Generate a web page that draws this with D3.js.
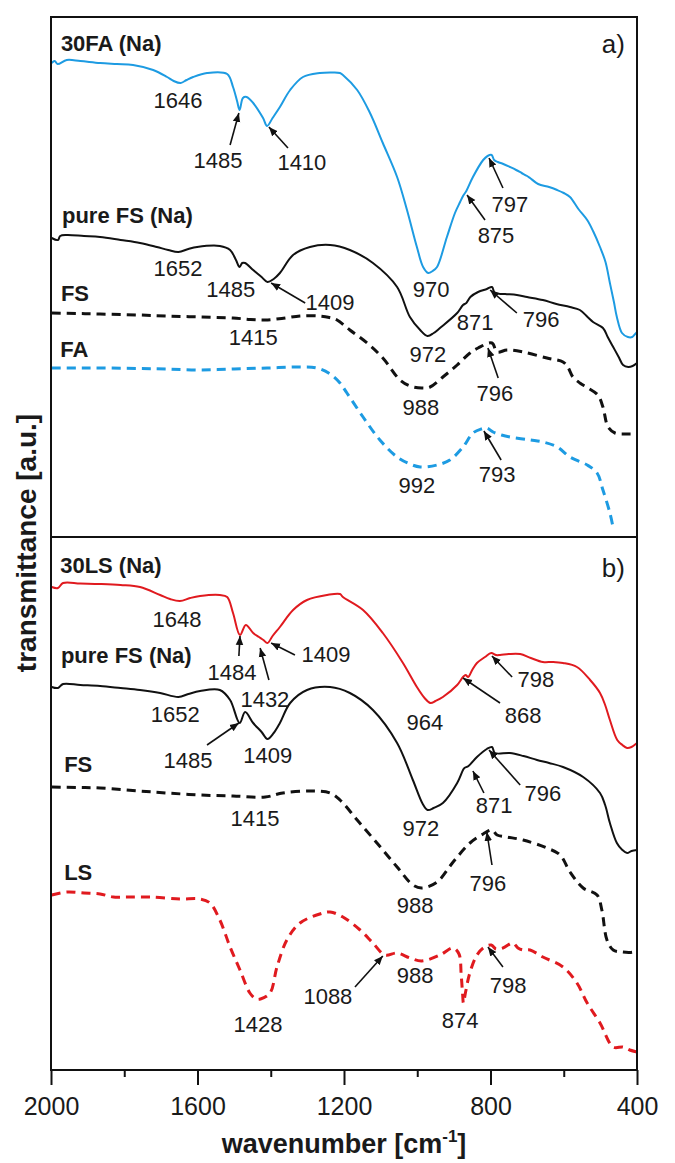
<!DOCTYPE html>
<html><head><meta charset="utf-8">
<script src="https://cdn.jsdelivr.net/npm/d3@7"></script>
<style>
body{margin:0;background:#fff}
svg{display:block}
text{font-family:"Liberation Sans",Arial,sans-serif;fill:#1a1a1a}
</style>
</head><body>
<svg id="c" width="675" height="1163"></svg>
<script>
// ---------- data ----------
const xTicksMajor=[2000,1600,1200,800,400];
const xTicksMinor=[1800,1400,1000,600];

// panel a  [wavenumber, transmittance a.u.]
const fa30Na=[[1998,47.4],[1990,47.6],[1982,47.3],[1957,47.7],[1920,47.6],[1866,47.4],[1820,47.3],[1776,47.2],[1721,46.7],[1683,46.0],[1665,45.6],[1646,45.4],[1630,45.7],[1612,46.0],[1574,46.4],[1519,46.3],[1503,45.0],[1492,43.6],[1485,42.7],[1476,43.9],[1466,44.0],[1448,43.4],[1421,41.9],[1410,41.1],[1395,41.9],[1375,43.0],[1347,44.7],[1312,46.0],[1266,46.4],[1230,46.45],[1211,46.4],[1203,46.2],[1164,44.7],[1129,42.4],[1094,39.4],[1055,36.0],[1028,32.7],[1001,29.0],[984,27.0],[970,26.4],[958,26.6],[946,27.0],[919,30.0],[897,32.4],[883,33.5],[875,34.1],[866,34.6],[848,36.0],[820,37.7],[808,38.1],[797,38.2],[790,37.7],[780,37.5],[765,37.3],[747,37.0],[730,36.7],[715,36.4],[700,36.1],[692,35.9],[670,35.3],[640,35.0],[618,34.7],[600,34.4],[583,34.0],[560,32.8],[536,31.7],[520,30.6],[501,29.0],[486,27.5],[474,25.4],[463,23.5],[455,22.0],[441,20.4],[425,20.0],[413,20.0],[405,20.3],[400,20.5]];
const pureFSa=[[1998,29.9],[1981,29.7],[1975,30.1],[1957,30.2],[1910,30.1],[1866,30.0],[1810,29.7],[1757,29.4],[1711,29.0],[1680,28.7],[1652,28.5],[1625,28.8],[1601,29.0],[1539,29.1],[1511,28.7],[1495,27.7],[1485,27.0],[1478,27.4],[1470,27.4],[1448,26.7],[1425,26.0],[1409,25.5],[1392,25.8],[1375,26.4],[1339,28.2],[1293,29.0],[1238,29.2],[1184,28.7],[1121,27.4],[1055,25.0],[1020,22.0],[992,20.7],[972,20.1],[955,20.4],[938,20.9],[891,22.4],[875,23.2],[866,23.4],[855,24.0],[834,24.5],[810,24.8],[796,25.0],[788,24.4],[760,24.3],[728,24.2],[700,24.0],[657,23.7],[620,23.3],[583,23.0],[556,22.7],[535,22.0],[520,21.5],[493,20.9],[480,20.0],[465,19.0],[450,18.0],[438,17.2],[424,17.0],[412,17.1],[400,17.4]];
const FSa=[[1998,22.4],[1930,22.35],[1866,22.3],[1760,22.2],[1683,22.1],[1593,22.0],[1503,21.9],[1455,21.75],[1415,21.7],[1370,21.85],[1320,22.1],[1266,22.1],[1240,21.95],[1219,21.7],[1184,20.7],[1137,19.4],[1094,17.9],[1047,15.7],[1020,15.1],[988,14.9],[965,15.0],[930,16.0],[891,17.2],[856,18.4],[834,18.9],[796,19.4],[782,18.5],[755,18.7],[711,18.5],[646,17.9],[602,17.5],[589,17.0],[575,16.0],[556,15.4],[534,14.9],[507,14.2],[493,13.0],[479,11.0],[460,10.4],[430,10.3],[400,10.3]];
const FAa=[[1998,16.9],[1930,16.9],[1866,16.9],[1760,16.85],[1683,16.8],[1593,16.7],[1500,16.8],[1410,16.9],[1320,17.0],[1274,16.9],[1238,16.3],[1211,15.4],[1192,14.4],[1148,12.0],[1102,9.7],[1055,8.0],[1020,7.3],[992,7.0],[946,7.2],[911,7.7],[875,9.0],[848,10.4],[825,10.8],[810,10.9],[793,10.5],[770,10.2],[747,10.0],[692,9.7],[657,9.5],[618,9.0],[583,8.0],[536,7.2],[509,6.4],[493,4.7],[474,2.4],[465,0.9]];

// panel b
const ls30Na=[[1998,48.3],[1981,48.2],[1967,48.7],[1920,48.65],[1866,48.6],[1810,48.5],[1757,48.3],[1702,47.5],[1675,47.1],[1648,46.9],[1620,47.2],[1593,47.4],[1539,47.5],[1519,47.3],[1503,45.7],[1484,43.5],[1468,44.5],[1448,43.7],[1432,43.3],[1420,43.0],[1409,42.7],[1395,43.4],[1375,44.3],[1339,46.0],[1301,47.0],[1246,47.5],[1211,47.6],[1203,47.3],[1148,46.0],[1094,43.7],[1039,40.7],[1001,38.3],[980,37.2],[964,36.7],[950,36.9],[930,37.3],[891,38.5],[875,39.3],[868,39.5],[861,39.3],[850,40.0],[837,40.7],[815,41.3],[798,41.7],[785,41.5],[774,41.5],[750,41.6],[719,41.6],[690,41.2],[657,40.8],[630,40.8],[602,40.7],[564,40.3],[528,39.0],[501,37.7],[487,36.5],[474,35.0],[454,33.0],[440,32.5],[427,32.2],[415,32.3],[400,32.7]];
const pureFSb=[[1998,38.3],[1981,38.2],[1967,38.6],[1920,38.5],[1866,38.4],[1810,38.2],[1757,38.0],[1702,37.7],[1652,37.3],[1625,37.6],[1593,37.9],[1539,38.0],[1511,37.0],[1485,34.7],[1470,35.8],[1448,34.7],[1425,33.8],[1409,33.1],[1392,33.7],[1375,34.7],[1347,36.7],[1301,38.0],[1238,38.3],[1184,37.7],[1121,36.0],[1055,32.7],[1012,29.0],[985,26.6],[972,26.0],[955,26.2],[930,26.7],[891,28.7],[875,30.0],[871,30.2],[860,30.4],[837,31.3],[810,32.1],[796,32.3],[788,31.7],[747,31.7],[710,31.4],[673,31.0],[640,30.7],[602,30.3],[547,29.3],[501,27.7],[487,26.5],[474,24.7],[455,22.7],[440,22.0],[427,21.7],[415,21.9],[400,22.0]];
const FSb=[[1998,28.3],[1930,28.25],[1866,28.2],[1760,27.9],[1683,27.7],[1593,27.5],[1503,27.4],[1415,27.3],[1367,27.7],[1293,27.9],[1238,27.7],[1211,27.0],[1164,25.0],[1110,22.7],[1055,20.3],[1012,18.5],[988,18.2],[946,18.8],[902,20.8],[856,22.7],[820,23.6],[796,24.0],[782,23.5],[755,23.3],[711,23.0],[646,22.2],[610,21.5],[583,19.8],[547,18.2],[509,17.5],[496,16.0],[482,13.0],[465,12.0],[440,11.8],[411,11.8],[400,12.0]];
const LSb=[[1998,17.5],[1957,17.8],[1910,17.7],[1866,17.6],[1830,17.3],[1792,17.3],[1730,17.3],[1648,17.1],[1593,17.1],[1566,16.7],[1539,15.0],[1511,12.3],[1484,10.0],[1457,7.7],[1440,7.1],[1428,7.1],[1402,7.7],[1383,10.3],[1356,13.0],[1320,14.7],[1266,15.6],[1238,15.8],[1203,15.3],[1156,14.0],[1121,12.7],[1088,11.5],[1055,11.7],[1020,11.2],[988,10.9],[938,11.5],[902,12.2],[886,11.6],[880,9.5],[876,7.5],[874,6.7],[868,7.8],[858,9.5],[840,11.3],[820,12.2],[798,12.5],[785,12.1],[766,12.2],[739,12.7],[725,12.2],[711,12.0],[692,12.0],[657,11.3],[602,10.3],[564,8.7],[536,6.7],[501,4.7],[465,2.3],[438,2.3],[420,2.0],[400,1.8]];

// series names [text, wavenumber, value]
const namesA=[["30FA (Na)",1973,48.6],["pure FS (Na)",1970,31.4],["FS",1973,23.6],["FA",1975,18.0]];
const namesB=[["30LS (Na)",1975,49.7],["pure FS (Na)",1973,40.7],["FS",1964,29.8],["LS",1964,19.0]];

// peak labels [text, w, v, (arrow tail w, v, head w, v)]
const peaksA=[
 ["1646",1653,42.9],
 ["1485",1544,36.9,1511,39.2,1487,42.4],
 ["1410",1315,36.7,1353,38.9,1405,41.0],
 ["970",962,24.0],
 ["875",785,29.4,815,31.7,864,34.2],
 ["797",747,32.5,766,34.9,804,37.9],
 ["1652",1653,26.1],
 ["1485",1509,24.0],
 ["1409",1238,22.7,1306,23.4,1399,25.4],
 ["972",971,17.5],
 ["871",842,20.7],
 ["796",662,21.0,728,22.4,801,24.7],
 ["1415",1448,19.2],
 ["988",990,12.2],
 ["796",788,13.6,779,15.9,807,18.9],
 ["992",1001,4.4],
 ["793",782,5.5,771,7.7,818,10.6]
];
const peaksB=[
 ["1648",1656,44.3],
 ["1484",1506,39.0,1487,41.4,1484,43.4],
 ["1432",1416,36.3,1405,39.0,1429,42.2],
 ["1409",1249,40.8,1334,41.5,1399,42.7],
 ["964",979,34.0],
 ["868",711,34.7,774,36.7,875,39.2],
 ["798",676,38.3,741,39.3,796,41.4],
 ["1652",1661,34.8],
 ["1485",1626,30.2,1574,32.5,1487,34.7],
 ["1409",1408,30.7],
 ["972",990,23.4],
 ["871",790,25.7,818,27.7,848,29.9],
 ["796",657,26.9,719,28.5,804,32.0],
 ["1415",1443,24.4],
 ["988",1006,15.7],
 ["796",807,17.9,796,20.5,810,23.8],
 ["1428",1435,3.8],
 ["1088",1244,6.6,1170,8.3,1094,11.4],
 ["988",1006,8.7],
 ["874",883,4.2],
 ["798",752,7.7,766,10.3,807,12.3]
];

// ---------- drawing ----------
const L=51,R=637,TA=17,SEP=537,B=1070;
const BLUE="#1d9be2",RED="#e01a1f",BLK="#111";
const svg=d3.select("#c");
const x=d3.scaleLinear().domain([2000,400]).range([L,R]);
const yA=d3.scaleLinear().domain([0,52]).range([SEP,TA]);
const yB=d3.scaleLinear().domain([0,53.3]).range([B,SEP]);

svg.append("defs").append("marker").attr("id","ah")
 .attr("viewBox","0 0 10 10").attr("refX",10).attr("refY",5)
 .attr("markerUnits","userSpaceOnUse").attr("markerWidth",9).attr("markerHeight",9)
 .attr("orient","auto")
 .append("path").attr("d","M0,0.8L10,5L0,9.2Z").attr("fill","#111");

const clip=svg.select("defs").append("clipPath").attr("id","cp");
clip.append("rect").attr("x",L).attr("y",TA).attr("width",R-L).attr("height",B-TA);

function drawSeries(data,y,color,dashed){
  const line=d3.line().x(d=>x(d[0])).y(d=>y(d[1])).curve(d3.curveCatmullRom.alpha(0.5));
  svg.append("path").attr("d",line(data)).attr("fill","none")
    .attr("stroke",color).attr("stroke-width",dashed?3:2)
    .attr("stroke-dasharray",dashed?"9,6":null)
    .attr("stroke-linejoin","round")
    .attr("clip-path","url(#cp)");
}
drawSeries(fa30Na,yA,BLUE,false);
drawSeries(pureFSa,yA,BLK,false);
drawSeries(FSa,yA,BLK,true);
drawSeries(FAa,yA,BLUE,true);
drawSeries(ls30Na,yB,RED,false);
drawSeries(pureFSb,yB,BLK,false);
drawSeries(FSb,yB,BLK,true);
drawSeries(LSb,yB,RED,true);

// frames
svg.append("rect").attr("x",L).attr("y",TA).attr("width",R-L).attr("height",B-TA)
  .attr("fill","none").attr("stroke","#111").attr("stroke-width",2);
svg.append("line").attr("x1",L).attr("x2",R).attr("y1",SEP).attr("y2",SEP)
  .attr("stroke","#111").attr("stroke-width",2);

// bottom axis
const ax=svg.append("g").attr("transform",`translate(0,${B})`)
  .call(d3.axisBottom(x).tickValues(xTicksMajor).tickSize(15).tickPadding(12).tickFormat(d3.format("d")));
ax.select(".domain").remove();
ax.selectAll("line").attr("stroke","#111").attr("stroke-width",2);
ax.selectAll("text").attr("font-size",25).attr("fill","#1a1a1a").style("font-family","'Liberation Sans',Arial,sans-serif");
const axm=svg.append("g").attr("transform",`translate(0,${B})`)
  .call(d3.axisBottom(x).tickValues(xTicksMinor).tickSize(7).tickFormat(""));
axm.select(".domain").remove();
axm.selectAll("line").attr("stroke","#111").attr("stroke-width",2);

// axis titles
const xt=svg.append("text").attr("x",(L+R)/2).attr("y",1153).attr("text-anchor","middle")
  .attr("font-size",27).attr("font-weight","bold");
xt.append("tspan").text("wavenumber [cm");
xt.append("tspan").text("-1").attr("font-size",17).attr("dy",-11);
xt.append("tspan").text("]").attr("dy",11);
svg.append("text").attr("transform","translate(26,543) rotate(-90)")
  .attr("text-anchor","middle").attr("dominant-baseline","central")
  .attr("font-size",28).attr("font-weight","bold").text("transmittance [a.u.]");

// panel letters
svg.append("text").attr("x",x(433)).attr("y",yA(48.4)).attr("text-anchor","end").attr("font-size",26).text("a)");
svg.append("text").attr("x",x(433)).attr("y",yB(49.3)).attr("text-anchor","end").attr("font-size",26).text("b)");

function drawNames(names,y){
  names.forEach(n=>svg.append("text").attr("x",x(n[1])).attr("y",y(n[2]))
    .attr("font-size",22).attr("font-weight","bold").text(n[0]));
}
drawNames(namesA,yA); drawNames(namesB,yB);

function drawPeaks(peaks,y){
  peaks.forEach(p=>{
    svg.append("text").attr("x",x(p[1])).attr("y",y(p[2])).attr("text-anchor","middle")
      .attr("font-size",22).text(p[0]);
    if(p.length>3){
      svg.append("line").attr("x1",x(p[3])).attr("y1",y(p[4])).attr("x2",x(p[5])).attr("y2",y(p[6]))
        .attr("stroke","#111").attr("stroke-width",1.6).attr("marker-end","url(#ah)");
    }
  });
}
drawPeaks(peaksA,yA); drawPeaks(peaksB,yB);
</script>
</body></html>
